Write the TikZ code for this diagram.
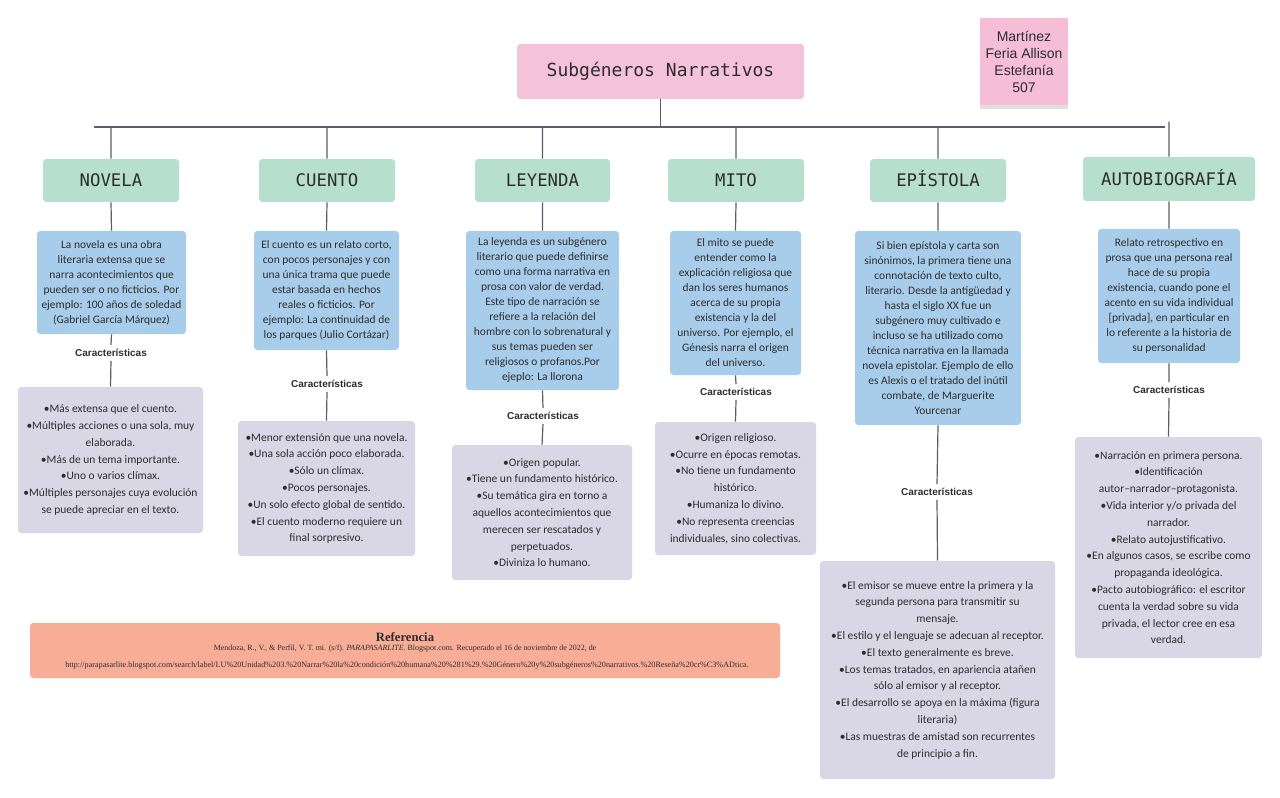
\documentclass[tikz,border=0pt]{standalone}
\usepackage{fontspec}
\setmainfont{Carlito}
\newfontfamily\monofont{DejaVu Sans Mono}
\newfontfamily\arialfont{Liberation Sans}
\newfontfamily\reffont{Liberation Serif}
\usetikzlibrary{shadows}
\definecolor{titlepink}{RGB}{244,195,217}
\definecolor{notepink}{RGB}{246,190,214}
\definecolor{catgreen}{RGB}{183,223,205}
\definecolor{descblue}{RGB}{168,205,234}
\definecolor{charlav}{RGB}{217,214,230}
\definecolor{refsalmon}{RGB}{248,173,150}
\definecolor{linegray}{RGB}{92,92,107}
\definecolor{txt}{RGB}{45,45,45}

\begin{document}
\begin{tikzpicture}[x=0.75pt,y=-0.75pt,
  sz/.style 2 args={minimum width=#1*0.75pt,minimum height=#2*0.75pt},
  box/.style={rounded corners=2.5pt,inner sep=0pt,align=center,text=txt},
  titlebox/.style={box,fill=titlepink,font=\monofont\fontsize{13.5}{16}\selectfont},
  catbox/.style={box,fill=catgreen,text height=9.6pt,text depth=0pt,font=\monofont\fontsize{13}{16}\selectfont},
  descbox/.style={box,fill=descblue,font=\fontsize{8.6}{11.25}\selectfont},
  charbox/.style={box,fill=charlav,font=\fontsize{8.6}{12.6}\selectfont},
  charlabel/.style={font=\arialfont\bfseries\fontsize{7.5}{9}\selectfont,text=txt,inner sep=3pt},
  link/.style={draw=linegray,line width=0.9pt}]
  \useasboundingbox (0,0) rectangle (1280,798);

  \node[titlebox,sz={287}{55}] (title) at (660.5,71.5) {Subgéneros Narrativos};
  \node[box,rounded corners=0pt,fill=notepink,sz={88}{87},
    drop shadow={shadow xshift=0pt,shadow yshift=-3pt,opacity=0.25},
    font=\arialfont\fontsize{10.5}{12.75}\selectfont] (autor) at (1024,61.5)
    {Martínez\\Feria Allison\\Estefanía\\507};

  \coordinate (barL) at (94,127);
  \coordinate (barR) at (1165,127);
  \draw[link] (barL) -- (barR);
  \draw[link] (title.south) -- (title.south |- barL);

  \node[catbox,sz={136}{43}] (novela) at (111,180.5) {NOVELA};
  \node[catbox,sz={136}{43}] (cuento) at (327,180.5) {CUENTO};
  \node[catbox,sz={135}{43}] (leyenda) at (542.5,180.5) {LEYENDA};
  \node[catbox,sz={136}{43}] (mito) at (736,180.5) {MITO};
  \node[catbox,sz={136}{43}] (epistola) at (938,180.5) {EPÍSTOLA};
  \node[catbox,sz={172}{44}] (autobio) at (1169,179) {AUTOBIOGRAFÍA};

  \node[descbox,sz={149}{103}] (novelaD) at (111.5,282.5)
    {La novela es una obra\\literaria extensa que se\\narra acontecimientos que\\pueden ser o no ficticios. Por\\ejemplo: 100 años de soledad\\(Gabriel García Márquez)};
  \node[descbox,sz={145}{119}] (cuentoD) at (326.5,290.5)
    {El cuento es un relato corto,\\con pocos personajes y con\\una única trama que puede\\estar basada en hechos\\reales o ficticios. Por\\ejemplo: La continuidad de\\los parques (Julio Cortázar)};
  \node[descbox,sz={153}{159}] (leyendaD) at (542.5,310.5)
    {La leyenda es un subgénero\\literario que puede definirse\\como una forma narrativa en\\prosa con valor de verdad.\\Este tipo de narración se\\refiere a la relación del\\hombre con lo sobrenatural y\\sus temas pueden ser\\religiosos o profanos.Por\\ejeplo: La llorona};
  \node[descbox,sz={131}{144}] (mitoD) at (735.5,303)
    {El mito se puede\\entender como la\\explicación religiosa que\\dan los seres humanos\\acerca de su propia\\existencia y la del\\universo. Por ejemplo, el\\Génesis narra el origen\\del universo.};
  \node[descbox,sz={166}{194}] (epistolaD) at (938,328)
    {Si bien epístola y carta son\\sinónimos, la primera tiene una\\connotación de texto culto,\\literario. Desde la antigüedad y\\hasta el siglo XX fue un\\subgénero muy cultivado e\\incluso se ha utilizado como\\técnica narrativa en la llamada\\novela epistolar. Ejemplo de ello\\es Alexis o el tratado del inútil\\combate, de Marguerite\\Yourcenar};
  \node[descbox,sz={142}{134}] (autobioD) at (1169,296)
    {Relato retrospectivo en\\prosa que una persona real\\hace de su propia\\existencia, cuando pone el\\acento en su vida individual\\{[}privada{]}, en particular en\\lo referente a la historia de\\su personalidad};

  \node[charlabel] (novelaK) at (111,353) {Características};
  \node[charlabel] (cuentoK) at (327,384) {Características};
  \node[charlabel] (leyendaK) at (543,416) {Características};
  \node[charlabel] (mitoK) at (736,392) {Características};
  \node[charlabel] (epistolaK) at (937,492) {Características};
  \node[charlabel] (autobioK) at (1169,390) {Características};

  \node[charbox,sz={185}{146}] (novelaC) at (110.5,460)
    {•Más extensa que el cuento.\\•Múltiples acciones o una sola, muy\\elaborada.\\•Más de un tema importante.\\•Uno o varios clímax.\\•Múltiples personajes cuya evolución\\se puede apreciar en el texto.};
  \node[charbox,sz={177}{135}] (cuentoC) at (326.5,488.5)
    {•Menor extensión que una novela.\\•Una sola acción poco elaborada.\\•Sólo un clímax.\\•Pocos personajes.\\•Un solo efecto global de sentido.\\•El cuento moderno requiere un\\final sorpresivo.};
  \node[charbox,sz={180}{135}] (leyendaC) at (542,512.5)
    {•Origen popular.\\•Tiene un fundamento histórico.\\•Su temática gira en torno a\\aquellos acontecimientos que\\merecen ser rescatados y\\perpetuados.\\•Diviniza lo humano.};
  \node[charbox,sz={161}{133}] (mitoC) at (735.5,488.5)
    {•Origen religioso.\\•Ocurre en épocas remotas.\\•No tiene un fundamento\\histórico.\\•Humaniza lo divino.\\•No representa creencias\\individuales, sino colectivas.};
  \node[charbox,sz={235}{218}] (epistolaC) at (937.5,670)
    {•El emisor se mueve entre la primera y la\\segunda persona para transmitir su\\mensaje.\\•El estilo y el lenguaje se adecuan al receptor.\\•El texto generalmente es breve.\\•Los temas tratados, en apariencia atañen\\sólo al emisor y al receptor.\\•El desarrollo se apoya en la máxima (figura\\literaria)\\•Las muestras de amistad son recurrentes\\de principio a fin.};
  \node[charbox,sz={187}{221}] (autobioC) at (1168.5,547.5)
    {•Narración en primera persona.\\•Identificación\\autor--narrador--protagonista.\\•Vida interior y/o privada del\\narrador.\\•Relato autojustificativo.\\•En algunos casos, se escribe como\\propaganda ideológica.\\•Pacto autobiográfico: el escritor\\cuenta la verdad sobre su vida\\privada, el lector cree en esa\\verdad.};

  \draw[link] (novela.north) -- (novela.north |- barL) (novela.south) -- (novelaD.north) (novelaD.south) -- (novelaK.north) (novelaK.south) -- (novelaC.north);
  \draw[link] (cuento.north) -- (cuento.north |- barL) (cuento.south) -- (cuentoD.north) (cuentoD.south) -- (cuentoK.north) (cuentoK.south) -- (cuentoC.north);
  \draw[link] (leyenda.north) -- (leyenda.north |- barL) (leyenda.south) -- (leyendaD.north) (leyendaD.south) -- (leyendaK.north) (leyendaK.south) -- (leyendaC.north);
  \draw[link] (mito.north) -- (mito.north |- barL) (mito.south) -- (mitoD.north) (mitoD.south) -- (mitoK.north) (mitoK.south) -- (mitoC.north);
  \draw[link] (epistola.north) -- (epistola.north |- barL) (epistola.south) -- (epistolaD.north) (epistolaD.south) -- (epistolaK.north) (epistolaK.south) -- (epistolaC.north);
  \draw[link] (autobio.north) -- ++(0,-35) (autobio.south) -- (autobioD.north) (autobioD.south) -- (autobioK.north) (autobioK.south) -- (autobioC.north);

  \node[box,fill=refsalmon,sz={750}{55}] (ref) at (405,650.5) {};
  \node[text=txt,inner sep=0pt,font=\reffont\bfseries\fontsize{9.5}{11}\selectfont] (refT) at (405,637) {Referencia};
  \node[text=txt,inner sep=0pt,font=\reffont\fontsize{5.95}{8}\selectfont] (refA) at (405,649)
    {Mendoza, R., V., \& Perfil, V. T. mi. (s/f). \textit{PARAPASARLITE}. Blogspot.com. Recuperado el 16 de noviembre de 2022, de};
  \node[text=txt,inner sep=0pt,font=\reffont\fontsize{6.1}{8}\selectfont] (refU) at (407,666)
    {http://parapasarlite.blogspot.com/search/label/LU\%20Unidad\%203.\%20Narrar\%20la\%20condición\%20humana\%20\%281\%29.\%20Género\%20y\%20subgéneros\%20narrativos.\%20Reseña\%20cr\%C3\%ADtica.};
\end{tikzpicture}
\end{document}
